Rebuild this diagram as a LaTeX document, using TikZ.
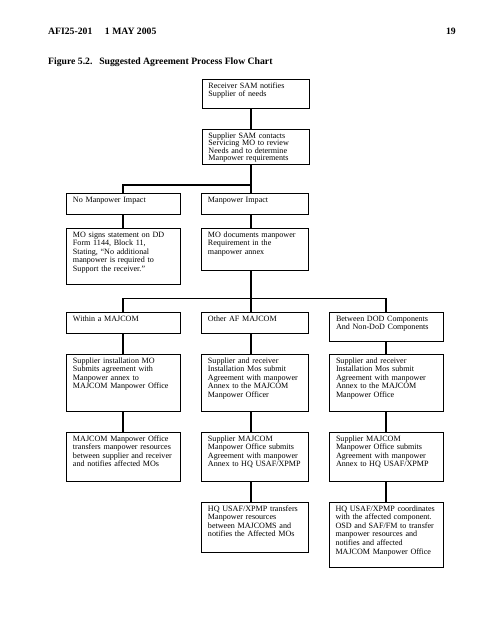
\documentclass[tikz,border=0pt]{standalone}
\usepackage{fontspec}
\setmainfont{Liberation Serif}
\usetikzlibrary{positioning}

\tikzset{
  flowbox/.style={draw, line width=1.3pt, anchor=north west, align=left,
    inner xsep=8pt, inner ysep=3.5pt, text height=7pt,
    font=\fontsize{10}{10.7}\selectfont},
  wide/.style={text width=125pt},
  narrow/.style={text width=116.3pt},
  link/.style={line width=1.3pt},
  heading/.style={inner sep=0pt, font=\bfseries\fontsize{12}{14}\selectfont}
}

\begin{document}
\begin{tikzpicture}[x=1.2364pt,y=-1.2364pt]
	\useasboundingbox (0,0) rectangle (495,640);
	% page head
	\node[heading,anchor=base west] (hdr) at (48,35) {AFI25-201\hspace{1.3em}1 MAY 2005};
	\node[heading,anchor=base east] (pgno) at (456,35) {19};
	\node[heading,anchor=base west] (cap) at (48,65) {Figure 5.2.\hspace{0.7em}Suggested Agreement Process Flow Chart};
	
	% column spines
	\coordinate (c1) at (123,0);
	\coordinate (c2) at (251,0);
	\coordinate (c3) at (386,0);
	\coordinate (j1) at (251,185);
	\coordinate (j2) at (251,298.4);
	
	% top
	\node[flowbox,narrow,text depth=21.9pt] (recv) at (201.5,79) {Receiver SAM notifies\\Supplier of needs};
	\node[flowbox,narrow,text depth=29.3pt,font=\fontsize{10}{9.4}\selectfont] (contact) at (201.5,129) {Supplier SAM contacts\\Servicing MO to review\\Needs and to determine\\Manpower requirements};
	
	% impact
	\node[flowbox,wide,text depth=12pt] (nomp) at (66,193) {No Manpower Impact};
	\node[flowbox,narrow,text depth=12pt] (mp) at (201,193) {Manpower Impact};
	\node[flowbox,wide,text depth=55.2pt] (signs) at (66,228) {MO signs statement on DD\\Form 1144, Block 11,\\Stating, “No additional\\manpower is required to\\Support the receiver.”};
	\node[flowbox,narrow,text depth=37.9pt] (docs) at (201,228) {MO documents manpower\\Requirement in the\\manpower annex};
	
	% three cases
	\node[flowbox,wide,text depth=12pt] (within) at (66,312) {Within a MAJCOM};
	\node[flowbox,narrow,text depth=12pt] (other) at (201,312) {Other AF MAJCOM};
	\node[flowbox,wide,text depth=21.9pt] (between) at (329,312) {Between DOD Components\\And Non-DoD Components};
	
	\node[flowbox,wide,text depth=56.5pt] (subwithin) at (66,354) {Supplier installation MO\\Submits agreement with\\Manpower annex to\\MAJCOM Manpower Office};
	\node[flowbox,narrow,text depth=56.5pt] (subother) at (201,354) {Supplier and receiver\\Installation Mos submit\\Agreement with manpower\\Annex to the MAJCOM\\Manpower Officer};
	\node[flowbox,wide,text depth=56.5pt] (subbetween) at (329,354) {Supplier and receiver\\Installation Mos submit\\Agreement with manpower\\Annex to the MAJCOM\\Manpower Office};
	
	\node[flowbox,wide,text depth=46.6pt] (mjtransfer) at (66,432) {MAJCOM Manpower Office\\transfers manpower resources\\between supplier and receiver\\and notifies affected MOs};
	\node[flowbox,narrow,text depth=46.6pt] (mjsubmit) at (201,432) {Supplier MAJCOM\\Manpower Office submits\\Agreement with manpower\\Annex to HQ USAF/XPMP};
	\node[flowbox,wide,text depth=46.6pt] (mjsubmitb) at (329,432) {Supplier MAJCOM\\Manpower Office submits\\Agreement with manpower\\Annex to HQ USAF/XPMP};
	
	\node[flowbox,narrow,text depth=47.8pt] (hqtransfer) at (201,502) {HQ USAF/XPMP transfers\\Manpower resources\\between MAJCOMS and\\notifies the Affected MOs};
	\node[flowbox,wide,text depth=66.4pt] (hqcoord) at (328.5,502) {HQ USAF/XPMP coordinates\\with the affected component.\\OSD and SAF/FM to transfer\\manpower resources and\\notifies and affected\\MAJCOM Manpower Office};
	
	% lines
	\draw[link] (recv.south -| c2) -- (contact.north -| c2);
	\draw[link] (contact.south -| c2) -- (j1);
	\draw[link] (nomp.north -| c1) |- (j1) -- (mp.north -| c2);
	\draw[link] (nomp.south -| c1) -- (signs.north -| c1);
	\draw[link] (mp.south -| c2) -- (docs.north -| c2);
	\draw[link] (docs.south -| c2) -- (j2);
	\draw[link] (within.north -| c1) |- (j2) -| (between.north -| c3);
	\draw[link] (j2) -- (other.north -| c2);
	\foreach \a/\b/\c in {within/subwithin/c1,subwithin/mjtransfer/c1,
		other/subother/c2,subother/mjsubmit/c2,mjsubmit/hqtransfer/c2,
		between/subbetween/c3,subbetween/mjsubmitb/c3,mjsubmitb/hqcoord/c3}{
		\draw[link] (\a.south -| \c) -- (\b.north -| \c);
	}
\end{tikzpicture}
\end{document}
